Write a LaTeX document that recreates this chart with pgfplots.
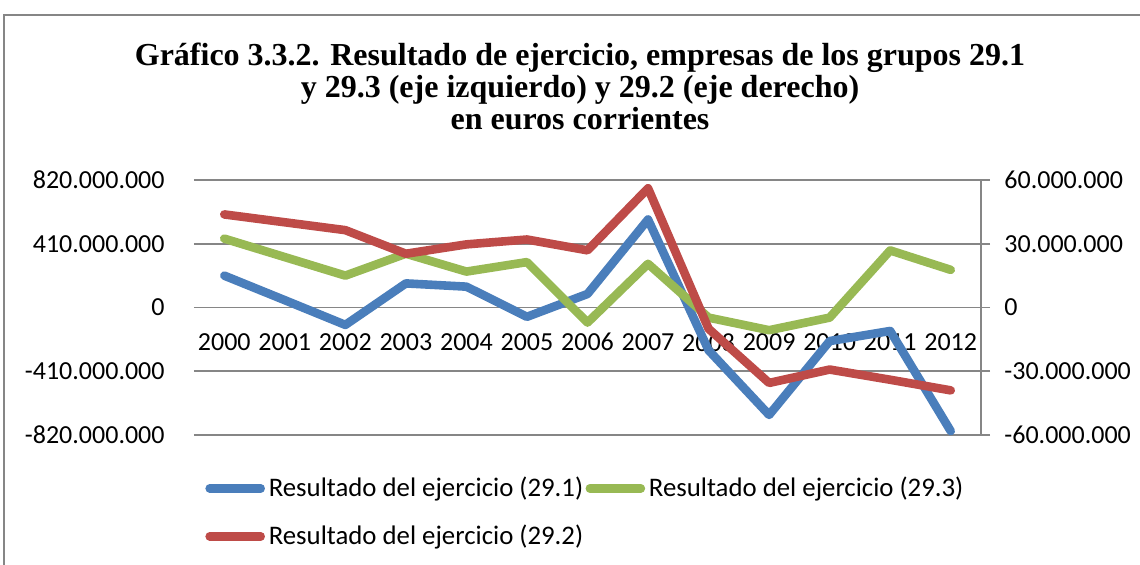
\documentclass[border=0pt]{standalone}
\usepackage{pgfplots}
\pgfplotsset{compat=1.18}
\usepackage{pgfplotstable}
\usepackage{fontspec}
\setmainfont{Carlito}
\newfontfamily\titlefont{Liberation Serif}
\definecolor{cblue}{HTML}{4A7EBB}
\definecolor{cred}{HTML}{BE4B48}
\definecolor{cgreen}{HTML}{98B954}
\definecolor{gridgray}{HTML}{868686}

\pgfplotstableread{
x y
0 205000000
1 47000000
2 -112000000
3 155000000
4 134000000
5 -60000000
6 87000000
7 566000000
8 -275000000
9 -691000000
10 -216000000
11 -151000000
12 -795000000
}\blue
\pgfplotstableread{
x y
0 443000000
1 324000000
2 205000000
3 346000000
4 231000000
5 292000000
6 -97000000
7 281000000
8 -65000000
9 -146000000
10 -65000000
11 367000000
12 242000000
}\green
\pgfplotstableread{
x y
0 43800000
1 40100000
2 36400000
3 25300000
4 29700000
5 32000000
6 26900000
7 56100000
8 -10000000
9 -35500000
10 -29200000
11 -34000000
12 -39000000
}\red

\begin{document}
\begin{tikzpicture}
\useasboundingbox (0,0) rectangle (570pt,-282.5pt);
\draw[gridgray, line width=1pt] (2pt,-283pt) -- (2pt,-7.5pt) -- (571pt,-7.5pt);
\node[font=\titlefont\bfseries\fontsize{16}{18}\selectfont, anchor=base, inner sep=0pt] at (290pt,-33pt) {Gráfico 3.3.2. Resultado de ejercicio, empresas de los grupos 29.1};
\node[font=\titlefont\bfseries\fontsize{16}{18}\selectfont, anchor=base, inner sep=0pt] at (290pt,-49pt) {y 29.3 (eje izquierdo) y 29.2 (eje derecho)};
\node[font=\titlefont\bfseries\fontsize{16}{18}\selectfont, anchor=base, inner sep=0pt] at (290pt,-65pt) {en euros corrientes};

\begin{axis}[
  at={(97pt,-217.5pt)}, anchor=south west,
  width=393.5pt, height=127.5pt, scale only axis,
  xmin=-0.5, xmax=12.5, ymin=-820000000, ymax=820000000,
  scaled y ticks=false,
  xtick={0,1,2,3,4,5,6,7,8,9,10,11,12},
  xticklabels={2000,2001,2002,2003,2004,2005,2006,2007,2008,2009,2010,2011,2012},
  ytick={-820000000,-410000000,0,410000000,820000000},
  yticklabels={-820.000.000,-410.000.000,0,410.000.000,820.000.000},
  axis x line*=bottom, axis y line*=left,
  axis line style={draw=none},
  major tick length=0pt,
  ymajorgrids, grid style={gridgray, line width=0.8pt},
  xticklabel style={font=\fontsize{13}{15}\selectfont, inner sep=0pt, anchor=north, yshift=51pt},
  yticklabel style={font=\fontsize{13}{15}\selectfont, inner sep=0pt, anchor=east, xshift=-14.5pt},
  clip=false,
]
\addplot[cblue, line width=4.3pt, line join=round, line cap=round] table[x=x,y=y] {\blue};
\addplot[cgreen, line width=4.3pt, line join=round, line cap=round] table[x=x,y=y] {\green};
\end{axis}

\begin{axis}[
  at={(97pt,-217.5pt)}, anchor=south west,
  width=393.5pt, height=127.5pt, scale only axis,
  xmin=-0.5, xmax=12.5, ymin=-60000000, ymax=60000000,
  scaled y ticks=false,
  axis x line=none, axis y line*=right,
  axis line style={gridgray, line width=0.8pt},
  ytick={-60000000,-30000000,0,30000000,60000000},
  yticklabels={-60.000.000,-30.000.000,0,30.000.000,60.000.000},
  major tick length=4.5pt, tick align=outside,
  tick style={gridgray, line width=0.8pt},
  yticklabel style={font=\fontsize{13}{15}\selectfont, inner sep=0pt, anchor=west, xshift=7pt},
  clip=false,
  legend columns=2,
  legend cell align=left,
  legend style={draw=none, fill=none, at={(0.0085,-0.1569)}, anchor=north west,
    font=\fontsize{13.4}{15.5}\selectfont, inner sep=0pt, row sep=11pt, column sep=0pt,
    nodes={inner sep=0pt, text height=10.5pt, text depth=2.5pt},
    /tikz/every even column/.append style={column sep=-1pt}},
  legend image code/.code={\draw[#1, line cap=round] (0pt,0pt) -- (25.5pt,0pt); \path (-2.15pt,0pt) (27.4pt,0pt);},
]
\addlegendimage{cblue, line width=4.3pt}
\addlegendentry{Resultado del ejercicio (29.1)}
\addlegendimage{cgreen, line width=4.3pt}
\addlegendentry{Resultado del ejercicio (29.3)}
\addplot[cred, line width=4.3pt, line join=round, line cap=round] table[x=x,y=y] {\red};
\addlegendentry{Resultado del ejercicio (29.2)}
\end{axis}
\end{tikzpicture}
\end{document}
